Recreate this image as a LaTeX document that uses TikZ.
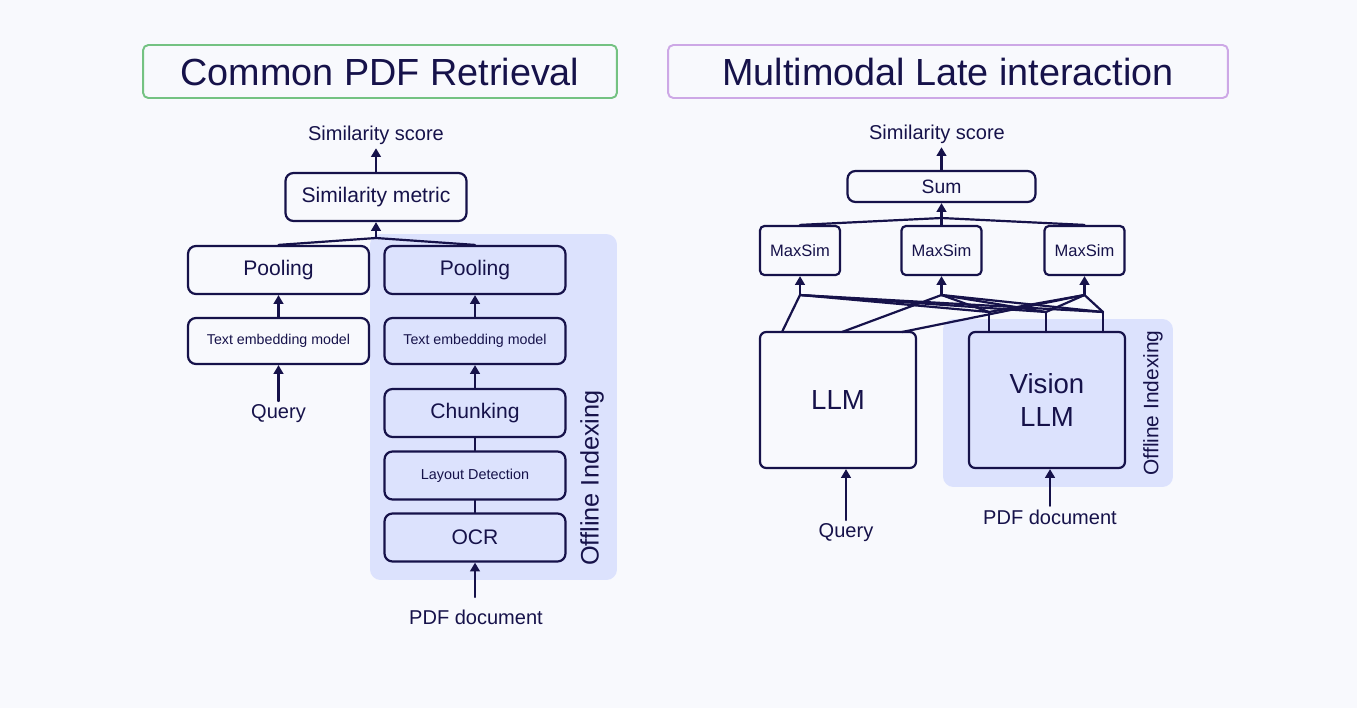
\documentclass[tikz,border=0pt]{standalone}
\usepackage{fontspec}
\setmainfont{Liberation Sans}
\usetikzlibrary{arrows.meta}
\definecolor{ink}{HTML}{16124A}
\definecolor{paper}{HTML}{F8F9FD}
\definecolor{offline}{HTML}{DCE2FD}
\definecolor{titlegreen}{HTML}{74C282}
\definecolor{titlepurple}{HTML}{CDA8E6}
\newcommand{\fsz}[1]{\fontsize{#1}{#1}\selectfont}
\begin{document}
\begin{tikzpicture}[x=0.02cm, y=-0.02cm, line join=round, line cap=round,
		>={Triangle[length=5pt,width=5.5pt]},
		every node/.style={text=ink, inner sep=2pt},
		wire/.style={draw=ink, line width=1.25pt},
		titlebox/.style={line width=1.1pt, rounded corners=3pt, minimum height=1.06cm, font=\fsz{21.5}},
		box/.style={draw=ink, line width=1.25pt, rounded corners=4.5pt, minimum width=3.62cm, minimum height=0.96cm, font=\fsz{12}},
		smallbox/.style={box, minimum height=0.92cm, font=\fsz{8.1}},
		simbox/.style={draw=ink, line width=1.25pt, rounded corners=2.5pt, minimum width=1.6cm, minimum height=0.98cm, font=\fsz{9.4}},
		llmbox/.style={draw=ink, line width=1.25pt, rounded corners=3.5pt, minimum width=3.12cm, minimum height=2.72cm, font=\fontsize{15.7}{18.5}\selectfont, align=center},
		region/.style={fill=offline, rounded corners=6pt},
		label/.style={font=\fsz{11.4}}]
	% background and margins
	\fill[paper] (0,0) rectangle (1357,708);
	\useasboundingbox (0,0) rectangle (1357,708);

	% titles
	\node[titlebox, draw=titlegreen] (titleL) at (380,71.5) [minimum width=9.48cm] {Common PDF Retrieval};
	\node[titlebox, draw=titlepurple] (titleR) at (948,71.5) [minimum width=11.2cm] {Multimodal Late interaction};

	% offline indexing regions
	\node[region, minimum width=4.94cm, minimum height=6.92cm] (offL) at (493.5,407) {};
	\node[region, minimum width=4.6cm, minimum height=3.36cm] (offR) at (1058,403) {};
	\node[rotate=90, font=\fsz{14.4}] (offLtxt) at (592,478) {Offline Indexing};
	\node[rotate=90, font=\fsz{11.9}] (offRtxt) at (1153,403) {Offline Indexing};

	% common PDF retrieval
	\node[label] (scoreL) at (376,135) {Similarity score};
	\node[box] (metric) at (376,197) {Similarity metric};
	\node[box] (poolL) at (278.5,270) {Pooling};
	\node[box] (poolR) at (475,270) {Pooling};
	\node[smallbox] (embL) at (278.5,341) {Text embedding model};
	\node[smallbox] (embR) at (475,341) {Text embedding model};
	\node[box] (chunk) at (475,413) {Chunking};
	\node[box, font=\fsz{8.2}] (layout) at (475,475.5) {Layout Detection};
	\node[box] (ocr) at (475,537.5) {OCR};
	\node[label] (queryL) at (278.5,414) {Query};
	\node[label] (pdfL) at (476,617) {PDF document};
	\coordinate (jL) at (376,238);

	\draw[wire, ->] (metric.north) -- (metric.north |- scoreL.south);
	\draw[wire] (poolL.north) -- (jL) -- (poolR.north);
	\draw[wire, ->] (jL) -- (metric.south);
	\draw[wire, ->] (embL.north) -- (poolL.south);
	\draw[wire, ->] (embR.north) -- (poolR.south);
	\draw[wire, ->] (queryL.north) -- (queryL.north |- embL.south);
	\draw[wire, ->] (chunk.north) -- (embR.south);
	\draw[wire] (layout.north) -- (chunk.south);
	\draw[wire] (ocr.north) -- (layout.south);
	\draw[wire, ->, shorten <=5pt] (ocr.south |- pdfL.north) -- (ocr.south);

	% multimodal late interaction
	\node[label] (scoreR) at (937,134) {Similarity score};
	\node[box, minimum width=3.76cm, minimum height=0.62cm, font=\fsz{11}] (sum) at (941.5,186.5) {Sum};
	\node[simbox] (ms1) at (800,250.5) {MaxSim};
	\node[simbox] (ms2) at (941.5,250.5) {MaxSim};
	\node[simbox] (ms3) at (1084.5,250.5) {MaxSim};
	\node[llmbox] (llm) at (838,400) {LLM};
	\node[llmbox] (vlm) at (1047,400) {Vision\\LLM};
	\node[label] (queryR) at (846,533) {Query};
	\node[label] (pdfR) at (1050,517) {PDF document};
	\coordinate (jR) at (941.5,218);

	\draw[wire, ->] (sum.north) -- (sum.north |- scoreR.south);
	\draw[wire] (ms1.north) -- (jR) -- (ms3.north);
	\draw[wire, ->] (ms2.north) -- (sum.south);
	\draw[wire, ->] (queryR.north) -- (queryR.north |- llm.south);
	\draw[wire, ->] (pdfR.north) -- (pdfR.north |- vlm.south);

	% token links
	\foreach \i/\ax/\qx/\vx in {1/800/782/989, 2/941.5/842/1046, 3/1084.5/902/1103} {
		\coordinate (a\i) at (\ax,295);
		\coordinate (q\i) at (\qx,332);
		\coordinate (v\i) at (\vx,312);
		\coordinate (vb\i) at (\vx,332);
	}
	\foreach \i in {1,2,3} {
		\draw[wire, ->] (a\i) -- (ms\i.south);
		\draw[wire] (q\i) -- (a\i);
		\draw[wire] (vb\i) -- (v\i);
		\foreach \j in {1,2,3}
			\draw[wire] (v\j) -- (a\i);
	}
\end{tikzpicture}
\end{document}
